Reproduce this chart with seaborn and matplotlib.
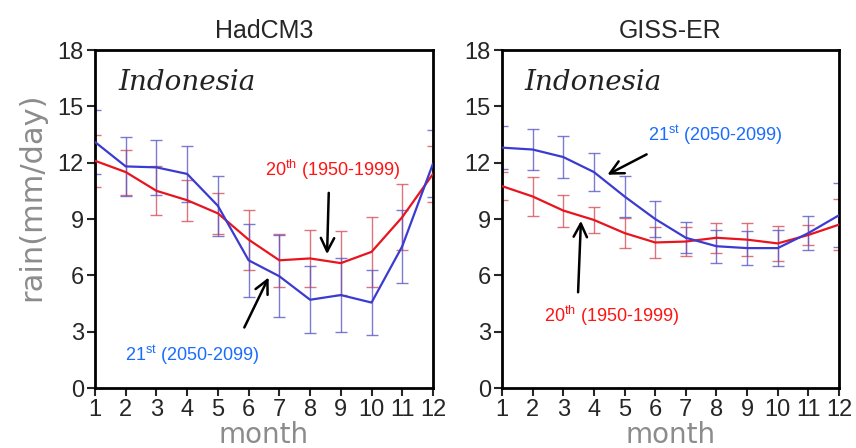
import matplotlib
matplotlib.use("Agg")
import matplotlib.pyplot as plt
import seaborn as sns
import numpy as np
import pandas as pd

months = list(range(1, 13))

# HadCM3
had_20 = [12.1, 11.5, 10.5, 10.0, 9.3, 7.9, 6.8, 6.9, 6.65, 7.25, 9.1, 11.4]
had_20_err = [1.4, 1.2, 1.3, 1.1, 1.1, 1.6, 1.4, 1.5, 1.7, 1.85, 1.75, 1.5]
had_21 = [13.1, 11.8, 11.75, 11.4, 9.7, 6.8, 5.95, 4.7, 4.95, 4.55, 7.55, 11.95]
had_21_err = [1.7, 1.55, 1.47, 1.47, 1.6, 1.93, 2.18, 1.78, 1.95, 1.73, 1.95, 1.8]

# GISS-ER
giss_20 = [10.75, 10.2, 9.45, 8.95, 8.25, 7.75, 7.8, 8.0, 7.9, 7.7, 8.15, 8.7]
giss_20_err = [0.75, 1.05, 0.85, 0.7, 0.8, 0.83, 0.75, 0.8, 0.87, 0.95, 0.55, 1.35]
giss_21 = [12.8, 12.7, 12.3, 11.5, 10.2, 9.0, 8.0, 7.55, 7.45, 7.45, 8.25, 9.2]
giss_21_err = [1.15, 1.1, 1.1, 1.0, 1.07, 0.95, 0.82, 0.87, 0.9, 0.95, 0.9, 1.7]

titles = ["HadCM3", "GISS-ER"]
region = "Indonesia"
label_20 = "20$^{th}$ (1950-1999)"
label_21 = "21$^{st}$ (2050-2099)"
yticks = [0, 3, 6, 9, 12, 15, 18]

sns.set_style("ticks")
plt.rcParams["font.family"] = ["Liberation Sans", "DejaVu Sans"]
plt.rcParams["mathtext.default"] = "regular"

RED = "#e8141e"
BLUE = "#3b3bd0"
RED_BAR = "#d8505a"
BLUE_BAR = "#5a5ac8"
RED_TXT = "#ff1414"
BLUE_TXT = "#1a6cff"
GRAY = "#8c8c8c"

fig = plt.figure(figsize=(8.56, 4.48), dpi=100)
ax1 = fig.add_axes([95/856, 60/448, 338/856, 338/448])
ax2 = fig.add_axes([502/856, 60/448, 337/856, 338/448])

panels = [
    (ax1, had_20, had_20_err, had_21, had_21_err),
    (ax2, giss_20, giss_20_err, giss_21, giss_21_err),
]

for i, (ax, v20, e20, v21, e21) in enumerate(panels):
    df = pd.DataFrame({
        "month": months * 2,
        "rain": v20 + v21,
        "period": ["20"] * 12 + ["21"] * 12,
    })
    ax.errorbar(months, v20, yerr=e20, fmt="none", ecolor=RED_BAR, elinewidth=1.0,
                capsize=4, capthick=1.0, alpha=0.8, zorder=2)
    ax.errorbar(months, v21, yerr=e21, fmt="none", ecolor=BLUE_BAR, elinewidth=1.0,
                capsize=4, capthick=1.0, alpha=0.8, zorder=2)
    sns.lineplot(data=df, x="month", y="rain", hue="period",
                 palette={"20": RED, "21": BLUE}, linewidth=1.6, legend=False,
                 ax=ax, zorder=3)
    ax.set_xlim(1, 12)
    ax.set_ylim(0, 18)
    ax.set_xticks(months)
    ax.set_yticks(yticks)
    ax.tick_params(axis="both", labelsize=17, length=6, width=1.5, direction="out", pad=2)
    for s in ax.spines.values():
        s.set_linewidth(2.0)
        s.set_color("black")
    ax.set_xlabel("month", fontsize=20, color=GRAY, family=["DejaVu Sans"],
                  labelpad=0)
    ax.set_ylabel("")
    ax.set_title(titles[i], fontsize=18, family=["Liberation Sans", "DejaVu Sans"], pad=9)
    ax.text(0.068, 0.905, region, transform=ax.transAxes, fontsize=20,
            family=["DejaVu Serif"], style="italic", color="#222222",
            ha="left", va="center")

ax1.set_ylabel("rain(mm/day)", fontsize=22, color=GRAY, family=["DejaVu Sans"])
ax1.yaxis.set_label_coords(-0.145, 0.565)

arrow = dict(arrowstyle="->", color="black", lw=1.8, mutation_scale=24)
lab_kw = dict(fontsize=13, ha="center", va="center")

# HadCM3 annotations
ax1.annotate("", xy=(8.55, 6.98), xytext=(8.61, 10.54), arrowprops=arrow)
ax1.text(8.73, 11.6, label_20, color=RED_TXT, **lab_kw)
ax1.annotate("", xy=(6.69, 6.02), xytext=(5.82, 3.09), arrowprops=arrow)
ax1.text(4.17, 1.76, label_21, color=BLUE_TXT, **lab_kw)

# GISS-ER annotations
ax2.annotate("", xy=(4.36, 11.29), xytext=(5.80, 12.51), arrowprops=arrow)
ax2.text(7.95, 13.47, label_21, color=BLUE_TXT, **lab_kw)
ax2.annotate("", xy=(3.58, 9.05), xytext=(3.48, 4.95), arrowprops=arrow)
ax2.text(4.57, 3.83, label_20, color=RED_TXT, **lab_kw)

fig.savefig("out.png", dpi=100)
